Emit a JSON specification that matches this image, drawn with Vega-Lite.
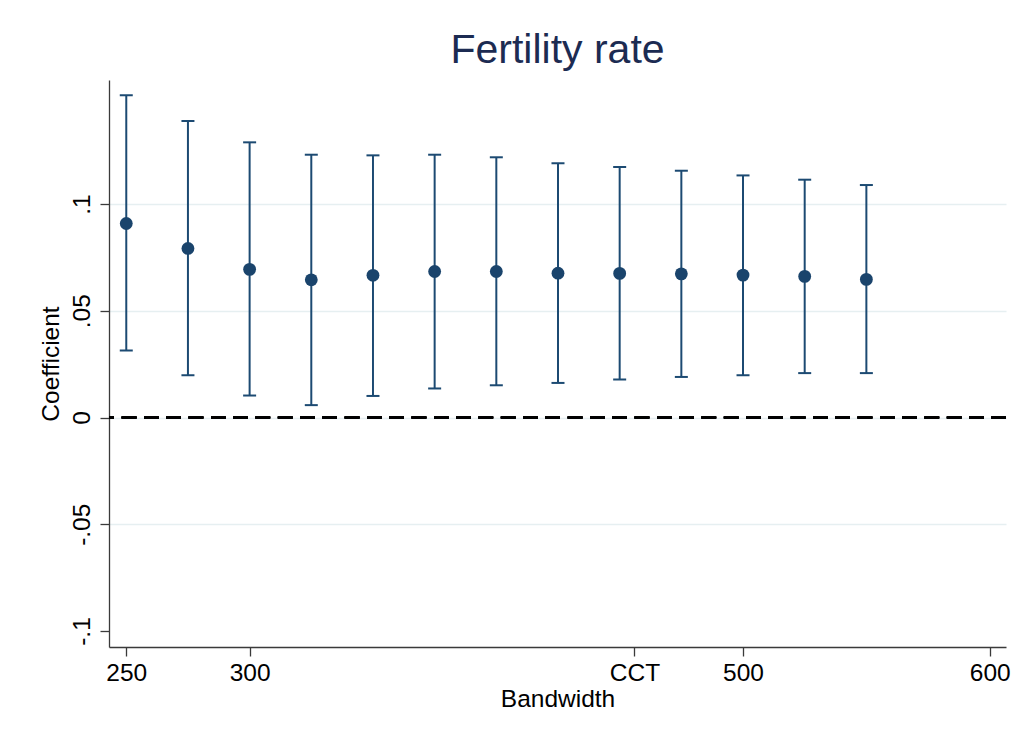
{
  "$schema": "https://vega.github.io/schema/vega-lite/v6.json",
  "width": 897,
  "height": 567,
  "autosize": {"type": "none"},
  "padding": {"left": 109, "top": 80, "right": 10, "bottom": 99},
  "background": "white",
  "title": {
    "text": "Fertility rate",
    "font": "Liberation Sans",
    "fontSize": 41,
    "fontWeight": "normal",
    "color": "#1c2b52",
    "anchor": "middle",
    "offset": 8
  },
  "config": {
    "view": {"stroke": null},
    "font": "Liberation Sans",
    "axis": {
      "labelFont": "Liberation Sans",
      "titleFont": "Liberation Sans",
      "labelFontSize": 24.5,
      "titleFontSize": 24.5,
      "labelColor": "black",
      "titleColor": "black",
      "titleFontWeight": "normal",
      "domainColor": "#3a3a3a",
      "domainWidth": 1.3,
      "tickColor": "#3a3a3a",
      "tickWidth": 1.3,
      "tickSize": 9
    }
  },
  "data": {
    "values": [
      {"bw": 250, "coef": 0.0909, "lo": 0.0314, "hi": 0.1510},
      {"bw": 275, "coef": 0.0792, "lo": 0.0198, "hi": 0.1389},
      {"bw": 300, "coef": 0.0694, "lo": 0.0103, "hi": 0.1289},
      {"bw": 325, "coef": 0.0645, "lo": 0.0058, "hi": 0.1231},
      {"bw": 350, "coef": 0.0666, "lo": 0.0101, "hi": 0.1228},
      {"bw": 375, "coef": 0.0684, "lo": 0.0136, "hi": 0.1231},
      {"bw": 400, "coef": 0.0684, "lo": 0.0151, "hi": 0.1219},
      {"bw": 425, "coef": 0.0676, "lo": 0.0162, "hi": 0.1191},
      {"bw": 450, "coef": 0.0675, "lo": 0.0178, "hi": 0.1173},
      {"bw": 475, "coef": 0.0673, "lo": 0.0190, "hi": 0.1156},
      {"bw": 500, "coef": 0.0667, "lo": 0.0198, "hi": 0.1134},
      {"bw": 525, "coef": 0.0661, "lo": 0.0208, "hi": 0.1114},
      {"bw": 550, "coef": 0.0647, "lo": 0.0208, "hi": 0.1089}
    ]
  },
  "encoding": {
    "x": {
      "field": "bw",
      "type": "quantitative",
      "title": "Bandwidth",
      "scale": {"domain": [243, 606.6], "nice": false, "zero": false},
      "axis": {
        "values": [250, 300, 456, 500, 600],
        "labelExpr": "datum.value == 456 ? 'CCT' : datum.label",
        "grid": false,
        "labelPadding": 5,
        "titlePadding": 3
      }
    }
  },
  "layer": [
    {
      "mark": {"type": "rule", "strokeWidth": 0},
      "encoding": {
        "y": {
          "field": "coef",
          "type": "quantitative",
          "title": "Coefficient",
          "scale": {"domain": [-0.1075, 0.1581], "nice": false, "zero": false},
          "axis": {
            "values": [-0.1, -0.05, 0, 0.05, 0.1],
            "labelExpr": "datum.value == 0.1 ? '.1' : datum.value == 0.05 ? '.05' : datum.value == 0 ? '0' : datum.value == -0.05 ? '-.05' : '-.1'",
            "labelAngle": -90,
            "labelPadding": 6,
            "titlePadding": 6,
            "grid": true,
            "gridColor": {"condition": {"test": "datum.value == -0.1", "value": "transparent"}, "value": "#e6eff1"},
            "gridWidth": 1.5
          }
        }
      }
    },
    {
      "mark": {"type": "rule", "color": "black", "strokeWidth": 2, "strokeDash": [14.5, 7.8]},
      "encoding": {"x": null, "y": {"datum": 0}}
    },
    {
      "mark": {"type": "rule", "color": "#1c4a72", "strokeWidth": 2},
      "encoding": {
        "y": {"field": "lo", "type": "quantitative"},
        "y2": {"field": "hi"}
      }
    },
    {
      "mark": {"type": "tick", "orient": "horizontal", "color": "#1c4a72", "size": 13, "thickness": 2, "opacity": 1},
      "encoding": {"y": {"field": "lo", "type": "quantitative"}}
    },
    {
      "mark": {"type": "tick", "orient": "horizontal", "color": "#1c4a72", "size": 13, "thickness": 2, "opacity": 1},
      "encoding": {"y": {"field": "hi", "type": "quantitative"}}
    },
    {
      "mark": {"type": "point", "shape": "circle", "filled": true, "size": 165, "color": "#1a446c", "opacity": 1},
      "encoding": {"y": {"field": "coef", "type": "quantitative"}}
    }
  ]
}
